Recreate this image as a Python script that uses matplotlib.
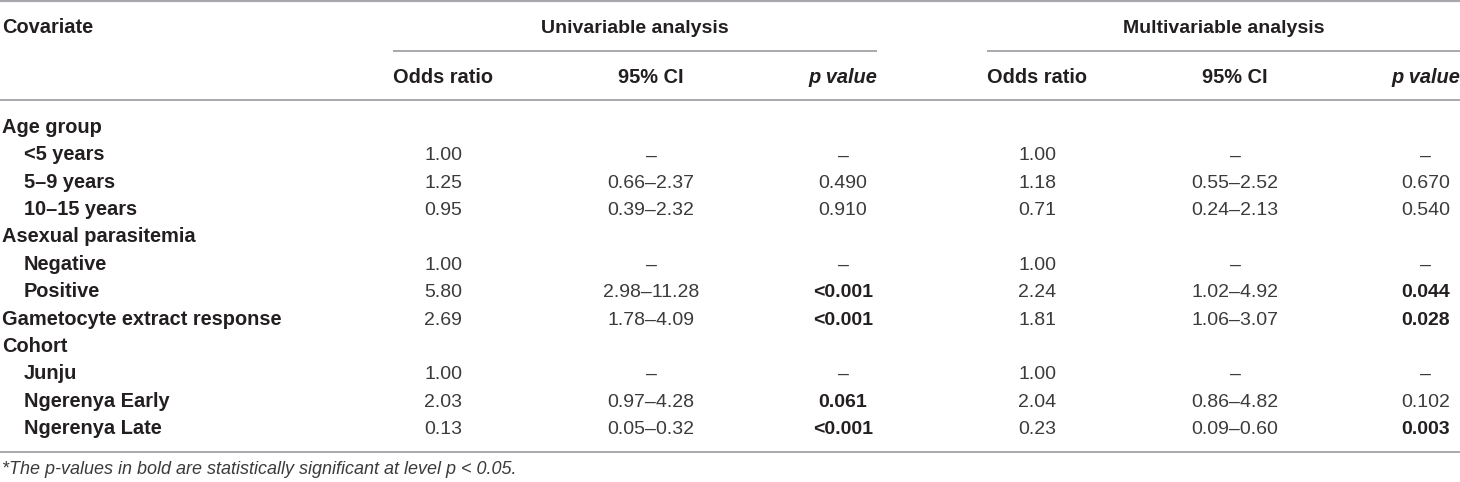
import matplotlib
matplotlib.use("Agg")
import matplotlib.pyplot as plt

# table content
covariates = ["Age group", "<5 years", "5\u20139 years", "10\u201315 years",
              "Asexual parasitemia", "Negative", "Positive",
              "Gametocyte extract response", "Cohort", "Junju",
              "Ngerenya Early", "Ngerenya Late"]
indent = [0, 1, 1, 1, 0, 1, 1, 0, 0, 1, 1, 1]

uni_or = ["", "1.00", "1.25", "0.95", "", "1.00", "5.80", "2.69", "", "1.00", "2.03", "0.13"]
uni_ci = ["", "\u2013", "0.66\u20132.37", "0.39\u20132.32", "", "\u2013", "2.98\u201311.28",
          "1.78\u20134.09", "", "\u2013", "0.97\u20134.28", "0.05\u20130.32"]
uni_p = ["", "\u2013", "0.490", "0.910", "", "\u2013", "<0.001", "<0.001", "", "\u2013", "0.061", "<0.001"]
uni_sig = [0, 0, 0, 0, 0, 0, 1, 1, 0, 0, 1, 1]

multi_or = ["", "1.00", "1.18", "0.71", "", "1.00", "2.24", "1.81", "", "1.00", "2.04", "0.23"]
multi_ci = ["", "\u2013", "0.55\u20132.52", "0.24\u20132.13", "", "\u2013", "1.02\u20134.92",
            "1.06\u20133.07", "", "\u2013", "0.86\u20134.82", "0.09\u20130.60"]
multi_p = ["", "\u2013", "0.670", "0.540", "", "\u2013", "0.044", "0.028", "", "\u2013", "0.102", "0.003"]
multi_sig = [0, 0, 0, 0, 0, 0, 1, 1, 0, 0, 0, 1]

groups = ["Univariable analysis", "Multivariable analysis"]
col_heads = ["Odds ratio", "95% CI", "p value"]
footnote = "*The p-values in bold are statistically significant at level p < 0.05."

plt.rcParams["font.family"] = ["Liberation Sans", "DejaVu Sans"]
txt = "#231f20"
num_col = "#3b3b3b"
rule = "#a7a9ac"
fs = 14.4

fig = plt.figure(figsize=(14.6, 4.82), dpi=100)
ax = fig.add_axes([0, 0, 1, 1])
ax.set_xlim(0, 1460)
ax.set_ylim(482, 0)
ax.axis("off")

# layout (pixels)
row0, pitch = 127, 27.36
base = 6
# column centres: OR, CI, p  for each block
blocks = [
    dict(x0=393, x1=877, cols=[443, 651, 843], data=[uni_or, uni_ci, uni_p], sig=uni_sig),
    dict(x0=987, x1=1460, cols=[1037, 1235, 1426], data=[multi_or, multi_ci, multi_p], sig=multi_sig),
]

# rules
ax.hlines(1, 0, 1460, color=rule, lw=1.6)
ax.hlines(100, 0, 1460, color=rule, lw=1.4)
ax.hlines(452, 0, 1460, color=rule, lw=1.4)
for b in blocks:
    ax.hlines(51, b["x0"], b["x1"], color=rule, lw=1.4)

# header
ax.text(2, 27 + base, "Covariate", fontsize=fs, fontweight="bold", color=txt, va="baseline")
for g, b in zip(groups, blocks):
    ax.text((b["x0"] + b["x1"]) / 2, 27 + base, g, fontsize=14, fontweight="bold",
            color=txt, va="baseline", ha="center")
    ax.text(b["cols"][0], 77 + base, col_heads[0], fontsize=fs, fontweight="bold",
            color=txt, va="baseline", ha="center")
    ax.text(b["cols"][1], 77 + base, col_heads[1], fontsize=fs, fontweight="bold",
            color=txt, va="baseline", ha="center")
    ax.text(b["x1"], 77 + base, col_heads[2], fontsize=fs, fontweight="bold",
            style="italic", color=txt, va="baseline", ha="right")

# body
for i, name in enumerate(covariates):
    y = row0 + i * pitch + base
    ax.text(2 + 22 * indent[i], y, name, fontsize=fs, fontweight="bold",
            color=txt, va="baseline")
    for b in blocks:
        for j, (cx, col) in enumerate(zip(b["cols"], b["data"])):
            bold = j == 2 and b["sig"][i]
            ax.text(cx, y, col[i], fontsize=14, va="baseline", ha="center",
                    color=txt if bold else num_col,
                    fontweight="bold" if bold else "normal")

ax.text(2, 469 + 5, footnote, fontsize=13, style="italic", color=num_col, va="baseline")

fig.savefig("out.png", dpi=100)
